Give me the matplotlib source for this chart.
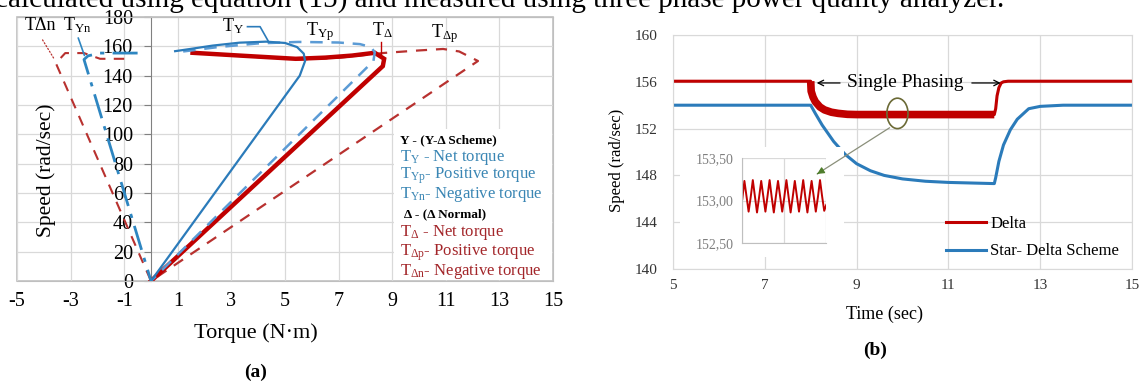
import matplotlib
matplotlib.use("Agg")
import matplotlib.pyplot as plt
from matplotlib.patches import Ellipse, Rectangle

plt.rcParams['font.family'] = 'Liberation Serif'
plt.rcParams['mathtext.fontset'] = 'custom'
plt.rcParams['mathtext.rm'] = 'Liberation Serif'
plt.rcParams['mathtext.it'] = 'Liberation Serif:italic'
plt.rcParams['mathtext.bf'] = 'Liberation Serif:bold'
plt.rcParams['axes.unicode_minus'] = False

# ---- panel (a): speed vs torque ----
ty_torque = [0.0, 5.55, 5.75, 5.7, 5.45, 5.0, 4.3, 3.3, 2.3, 1.5, 0.9]
ty_speed = [0, 140, 150, 155, 159.5, 162.3, 163.2, 162.5, 160.5, 158.3, 156.7]

typ_torque = [1.2, 2.5, 4.0, 5.5, 7.0, 7.8, 8.2, 8.35, 8.3, 0.0]
typ_speed = [156.5, 159.5, 162, 163, 162.6, 161.5, 159.5, 156, 150, 0]

tyn_torque = [-0.5, -1.9, -2.35, -2.5, 0.0]
tyn_speed = [155.4, 155.4, 153.5, 151, 0]

td_torque = [1.55, 3.5, 5.4, 6.5, 7.5, 8.35, 8.7, 8.65, 0.0]
td_speed = [155.6, 153.5, 151.5, 152.3, 153.7, 155.6, 151.5, 146.5, 0]

tdp_torque = [1.7, 3.5, 5.5, 7.0, 8.7, 10.0, 10.9, 11.5, 12.2, 0.0]
tdp_speed = [155.3, 153.2, 151.0, 152.2, 155.5, 157.2, 158.2, 156.5, 150, 0]

tdn_torque = [-1.0, -1.9, -2.5, -3.2, -3.55, 0.0]
tdn_speed = [151.5, 151.5, 155.4, 155.4, 148.5, 0]

# ---- panel (b): speed vs time ----
delta_t = [5, 8.0, 8.01, 8.05, 8.1, 8.2, 8.3, 8.45, 8.6, 8.8, 9.0, 10.0, 11.0, 12.0,
           12.03, 12.06, 12.1, 12.15, 12.2, 12.3, 15]
delta_speed = [156.05, 156.05, 155.2, 154.7, 154.3, 153.85, 153.6, 153.4, 153.3, 153.22,
               153.2, 153.2, 153.2, 153.2, 153.7, 154.8, 155.5, 155.9, 156.0, 156.05, 156.05]

star_t = [5, 8.0, 8.1, 8.25, 8.5, 8.75, 9.0, 9.3, 9.6, 10.0, 10.5, 11.0, 11.5, 12.0,
          12.03, 12.1, 12.2, 12.35, 12.5, 12.75, 13.0, 13.5, 15]
star_speed = [154.0, 154.0, 153.3, 152.3, 150.9, 149.8, 149.0, 148.4, 148.0, 147.7, 147.5,
              147.4, 147.35, 147.3, 147.8, 149.2, 150.6, 151.9, 152.8, 153.7, 153.9, 154.0, 154.0]

# zoomed oscillation shown in the inset
inset_speed = [153.02, 153.23, 153.05, 152.87, 153.04, 153.24, 153.05, 152.86, 153.04,
               153.23, 153.05, 152.87, 153.05, 153.24, 153.04, 152.86, 153.05, 153.23,
               153.05, 152.87, 153.04, 153.24, 153.05, 152.86, 153.04, 153.23, 153.05,
               152.87, 153.05, 153.24, 153.04, 152.86, 153.05, 153.23, 153.05, 152.87,
               153.04, 153.24, 153.05, 152.88, 152.95]

BLUE = '#2b7bba'
BLUE_LIGHT = '#5b9bd5'
RED = '#c00000'
RED_DASH = '#b8312f'
GRID = '#d9d9d9'
W, H = 1140, 389

fig = plt.figure(figsize=(11.4, 3.89), dpi=100)

# caption line of the page, cut by the top edge
fig.text(-0.004, 1 - 7 / H,
         'calculated using equation (15) and measured using three phase power quality analyzer.',
         fontsize=21, va='baseline', ha='left')

# ================= (a) =================
ax = fig.add_axes([17 / W, 1 - 281 / H, (553 - 17) / W, (281 - 17) / H])
ax.set_xlim(-5, 15)
ax.set_ylim(0, 180)
ax.set_xticks(range(-5, 16, 2))
ax.set_yticks(range(0, 181, 20))
ax.set_axisbelow(True)
ax.grid(color=GRID, lw=0.9)
for s in ['top', 'right', 'bottom']:
    ax.spines[s].set_color('#bfbfbf')
ax.spines['left'].set_position(('data', 0))
ax.spines['left'].set_color('#808080')
ax.patch.set_edgecolor('#bfbfbf')
ax.patch.set_linewidth(1.2)
ax.tick_params(axis='x', length=0, pad=8, labelsize=14.5)
ax.tick_params(axis='y', length=5, direction='out', color='#808080', pad=8, labelsize=14.5)

# white box behind legend text
ax.add_patch(Rectangle((9.05, 0.6), 5.9, 103, facecolor='white', edgecolor='none', zorder=1.2))

ax.plot(tdp_torque, tdp_speed, color=RED_DASH, lw=1.6, ls=(0, (5, 4)), zorder=2)
ax.plot(tdn_torque, tdn_speed, color=RED_DASH, lw=1.5, ls=(0, (5, 4)), zorder=2)
ax.plot(td_torque, td_speed, color=RED, lw=3.2, zorder=3, solid_joinstyle='miter')
ax.plot(typ_torque, typ_speed, color=BLUE_LIGHT, lw=1.8, ls=(0, (5, 3.5)), zorder=4)
ax.plot(ty_torque, ty_speed, color=BLUE, lw=1.6, zorder=4)
ax.plot(tyn_torque, tyn_speed, color='#2e86c1', lw=2.0, ls=(0, (9, 3, 1.5, 3)), zorder=4)

lab = dict(fontsize=13, ha='center', va='center')
ax.text(-4.14, 174.5, 'TΔn', **lab)
ax.annotate('', xy=(-3.55, 149.5), xytext=(-4.1, 166),
            arrowprops=dict(arrowstyle='-', color=RED_DASH, lw=0.9, ls=':'))
ax.text(-2.75, 174.5, r'T$_{\mathrm{Yn}}$', **lab)
ax.annotate('', xy=(-2.45, 152), xytext=(-2.75, 167.5),
            arrowprops=dict(arrowstyle='-', color='#2e86c1', lw=1.2))
ax.text(3.05, 173.5, r'T$_{\mathrm{Y}}$', **lab)
ax.plot([3.6, 4.07, 4.38], [173.4, 173.4, 163.4], color=BLUE, lw=1.2)
ax.text(6.3, 170, r'T$_{\mathrm{Yp}}$', **lab)
ax.text(8.62, 171, r'T$_{\mathrm{Δ}}$', **lab)
ax.plot([8.6, 8.6], [163, 154.5], color=RED, lw=1.0)
ax.text(10.97, 169, r'T$_{\mathrm{Δp}}$', **lab)

# legend block
leg_blue = '#3a86b4'
leg_red = '#a3262a'
ax.text(9.3, 96, 'Y - (Y-Δ Scheme)', fontsize=9.5, fontweight='bold', va='center', zorder=5)
ax.text(9.3, 84.5, r'T$_{\mathrm{Y}}$ - Net torque', fontsize=12, color=leg_blue, va='center', zorder=5)
ax.text(9.3, 71.6, r'T$_{\mathrm{Yp}}$- Positive torque', fontsize=12, color=leg_blue, va='center', zorder=5)
ax.text(9.3, 59, r'T$_{\mathrm{Yn}}$- Negative torque', fontsize=12, color=leg_blue, va='center', zorder=5)
ax.text(9.43, 45.8, 'Δ - (Δ Normal)', fontsize=9.5, fontweight='bold', va='center', zorder=5)
ax.text(9.3, 33.4, r'T$_{\mathrm{Δ}}$ - Net torque', fontsize=12, color=leg_red, va='center', zorder=5)
ax.text(9.3, 19.4, r'T$_{\mathrm{Δp}}$- Positive torque', fontsize=12, color=leg_red, va='center', zorder=5)
ax.text(9.3, 6.8, r'T$_{\mathrm{Δn}}$- Negative torque', fontsize=12, color=leg_red, va='center', zorder=5)

fig.text(46 / W, 1 - 170 / H, 'Speed (rad/sec)', rotation=90, fontsize=15.5, ha='center', va='center')
fig.text(256 / W, 1 - 333 / H, 'Torque (N·m)', fontsize=16, ha='center', va='center')
fig.text(256 / W, 1 - 372 / H, '(a)', fontsize=14, fontweight='bold', ha='center', va='center')

# ================= (b) =================
bx = fig.add_axes([673 / W, 1 - 269 / H, (1132 - 673) / W, (269 - 35) / H])
bx.set_xlim(5, 15)
bx.set_ylim(140, 160)
bx.set_xticks(range(5, 16, 2))
bx.set_yticks(range(140, 161, 4))
bx.set_axisbelow(True)
bx.grid(color=GRID, lw=0.9)
for s in bx.spines.values():
    s.set_color(GRID)
bx.tick_params(length=0, labelsize=11, colors='#333333')
bx.tick_params(axis='x', pad=7)
bx.tick_params(axis='y', pad=11)

bx.plot(star_t, star_speed, color=BLUE, lw=2.2, label='Star- Delta Scheme', zorder=2)
bx.plot(delta_t, delta_speed, color=RED, lw=2.2, label='Delta', zorder=2)
band_t = [t for t in delta_t if 8.0 <= t <= 12.0]
band_s = [s for t, s in zip(delta_t, delta_speed) if 8.0 <= t <= 12.0]
bx.plot(band_t, band_s, color=RED, lw=5.5, zorder=2, solid_capstyle='butt')

h, l = bx.get_legend_handles_labels()
bx.legend(h[::-1], l[::-1], loc='center left', bbox_to_anchor=(0.595, 0.134), frameon=False,
          fontsize=12, handlelength=2.4, handletextpad=0.25, labelspacing=0.7,
          borderpad=0, borderaxespad=0)

# white plot-area of the inset hides what is behind it
bx.add_patch(Rectangle((5.15, 141.0), 8.72 - 5.15, 150.4 - 141.0, facecolor='white',
                       edgecolor='none', zorder=3))
axins = bx.inset_axes([6.51, 142.2, 1.83, 7.3], transform=bx.transData, zorder=4)
axins.plot(range(len(inset_speed)), inset_speed, color=RED, lw=1.4)
axins.set_xlim(0, len(inset_speed) - 1)
axins.set_ylim(152.5, 153.5)
axins.set_yticks([152.5, 153.0, 153.5])
axins.set_yticklabels(['152,50', '153,00', '153,50'])
axins.set_xticks([0, (len(inset_speed) - 1) / 2, len(inset_speed) - 1])
axins.set_xticklabels([])
axins.grid(color=GRID, lw=0.9)
axins.set_axisbelow(True)
for s in ['top', 'right']:
    axins.spines[s].set_visible(False)
for s in ['left', 'bottom']:
    axins.spines[s].set_color('#bfbfbf')
axins.tick_params(length=0, labelsize=10, colors='#7f7f7f', pad=6)

bx.add_patch(Ellipse((9.89, 153.3), 0.46, 2.6, fill=False, edgecolor='#6b6a36', lw=1.2, zorder=6))
bx.annotate('', xy=(8.09, 148.0), xytext=(9.77, 152.2),
            arrowprops=dict(arrowstyle='-', color='#8a8f7a', lw=0.9), zorder=6)
bx.annotate('', xy=(8.09, 148.0), xytext=(8.2, 148.27),
            arrowprops=dict(arrowstyle='-|>', color='#4e7d2b', lw=0.9, mutation_scale=10), zorder=6)

bx.text(10.07, 155.9, 'Single Phasing', fontsize=14, ha='center', va='center', zorder=6)
bx.annotate('', xy=(8.07, 155.9), xytext=(8.7, 155.9),
            arrowprops=dict(arrowstyle='->', color='black', lw=0.9), zorder=6)
bx.annotate('', xy=(12.2, 155.9), xytext=(11.45, 155.9),
            arrowprops=dict(arrowstyle='->', color='black', lw=0.9), zorder=6)

fig.text(617 / W, 1 - 160 / H, 'Speed (rad/sec)', rotation=90, fontsize=12, ha='center', va='center')
fig.text(884 / W, 1 - 314 / H, 'Time (sec)', fontsize=13, ha='center', va='center')
fig.text(875 / W, 1 - 350 / H, '(b)', fontsize=14, fontweight='bold', ha='center', va='center')

fig.savefig('out.png', dpi=100)
